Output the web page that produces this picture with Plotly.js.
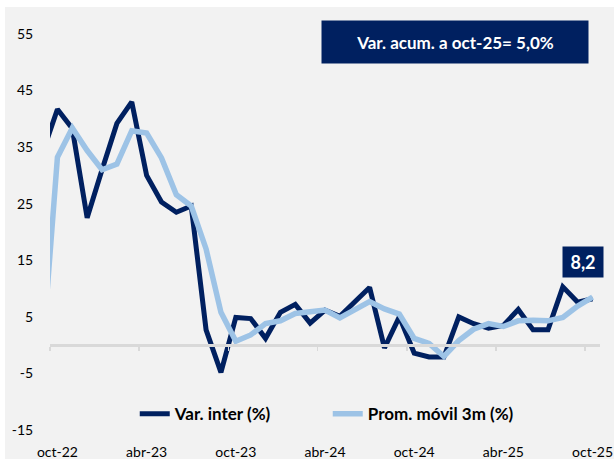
<!DOCTYPE html>
<html>
<head>
<meta charset="utf-8">
<script src="https://cdn.plot.ly/plotly-3.0.1.min.js"></script>
<style>
  html, body { margin: 0; padding: 0; background: #ffffff; }
  #chart { width: 614px; height: 459px; }
</style>
</head>
<body>
<div id="chart"></div>
<script>
// Months (sep-22 is partly clipped at the left edge, as in the reference)
const months = ["sep-22","oct-22","nov-22","dic-22","ene-23","feb-23","mar-23","abr-23","may-23","jun-23","jul-23","ago-23",
  "sep-23","oct-23","nov-23","dic-23","ene-24","feb-24","mar-24","abr-24","may-24","jun-24","jul-24","ago-24",
  "sep-24","oct-24","nov-24","dic-24","ene-25","feb-25","mar-25","abr-25","may-25","jun-25","jul-25","ago-25",
  "sep-25","oct-25"];

// Var. inter (%)
const varInter = [34, 41.7, 38.3, 22.5, 31, 39.2, 43, 30, 25.3, 23.5, 24.6, 2.7, -4.8, 4.9, 4.7, 1.2, 5.8, 7.2, 3.9,
  6.2, 5.1, 7.7, 10.2, -0.5, 5.0, -1.4, -2.1, -2.1, 5.0, 3.8, 3.0, 3.5, 6.3, 2.7, 2.7, 10.3, 7.6, 8.2];

// Prom. móvil 3m (%)
const promMovil = [-1, 33.2, 38.4, 34.4, 31.0, 32.0, 37.9, 37.5, 33.1, 26.6, 24.6, 17.0, 5.8, 0.7, 1.8, 3.8, 4.3,
  5.6, 5.9, 6.2, 4.8, 6.2, 7.7, 6.4, 5.5, 1.2, 0.3, -2.0, 0.8, 2.8, 3.8, 3.3, 4.3, 4.4, 4.3, 4.9, 6.9, 8.5];

const tickMonths = ["oct-22","abr-23","oct-23","abr-24","oct-24","abr-25","oct-25"];
const yTicks = [-15, -5, 5, 15, 25, 35, 45, 55];

const seriesNames = ["Var. inter (%)", "Prom. móvil 3m (%)"];
const boxText = "Var. acum. a oct-25= 5,0%";

const DARK = "#002060";
const LIGHT = "#9DC3E6";
const FONT = "Lato, 'Open Sans', sans-serif";

const xIdx = months.map((_, i) => i);
const tickIdx = tickMonths.map(m => months.indexOf(m));
const boundaryIdx = tickIdx.map(i => i - 0.5);
const yMin = -15, yMax = 55;
const zeroPos = (0 - yMin) / (yMax - yMin);
const lastI = months.length - 1;
const lastLabel = varInter[lastI].toFixed(1).replace(".", ",");

const traces = [
  { x: xIdx, y: varInter, type: "scatter", mode: "lines", name: seriesNames[0],
    line: { color: DARK, width: 5, shape: "linear" }, hoverinfo: "skip" },
  { x: xIdx, y: promMovil, type: "scatter", mode: "lines", name: seriesNames[1],
    line: { color: LIGHT, width: 5.5, shape: "linear" }, hoverinfo: "skip" },
  { x: boundaryIdx, y: boundaryIdx.map(() => null), xaxis: "x2", type: "scatter", mode: "lines",
    showlegend: false, hoverinfo: "skip" }
];

const layout = {
  width: 614, height: 459,
  margin: { l: 50, r: 14, t: 34, b: 29 },
  paper_bgcolor: "#ffffff",
  plot_bgcolor: "#f2f2f2",
  font: { family: FONT, size: 14, color: "#000000" },
  showlegend: true,
  legend: {
    orientation: "h", x: 0.505, y: 0.04, xanchor: "center", yanchor: "middle",
    bgcolor: "rgba(0,0,0,0)", font: { family: FONT, size: 17, color: "#000000", weight: "bold" },
    traceorder: "normal", entrywidth: 148
  },
  xaxis: {
    type: "linear", range: [0.5, lastI + 0.5], showgrid: false, zeroline: false, showline: false,
    tickmode: "array", tickvals: tickIdx, ticktext: tickMonths,
    ticks: "outside", ticklen: 9, tickcolor: "rgba(0,0,0,0)",
    tickfont: { family: FONT, size: 14, color: "#000000" }, fixedrange: true
  },
  xaxis2: {
    type: "linear", range: [0.5, lastI + 0.5], overlaying: "x", anchor: "free", position: zeroPos,
    side: "bottom", showgrid: false, zeroline: false, showline: true, linecolor: "#d9d9d9", linewidth: 2.5,
    tickmode: "array", tickvals: boundaryIdx, ticks: "outside", ticklen: 4, tickwidth: 1.5, tickcolor: "#d9d9d9",
    showticklabels: false, fixedrange: true
  },
  yaxis: {
    range: [yMin, yMax], showgrid: false, zeroline: false, showline: false,
    tickmode: "array", tickvals: yTicks, ticktext: yTicks.map(String),
    ticks: "outside", ticklen: 13, tickcolor: "rgba(0,0,0,0)",
    tickfont: { family: FONT, size: 14, color: "#000000" }, fixedrange: true
  },
  shapes: [
    { type: "rect", xref: "paper", yref: "paper", x0: -0.0818, x1: 1.03, y0: -0.08, y1: 1.068,
      fillcolor: "#f2f2f2", line: { width: 0 }, layer: "below" }
  ],
  annotations: [
    { xref: "paper", yref: "paper", x: 0.737, y: 0.98, xanchor: "center", yanchor: "middle",
      text: "<b>" + boxText + "</b>", showarrow: false, bgcolor: DARK,
      font: { family: FONT, size: 17, color: "#ffffff" }, width: 262, height: 38, borderpad: 2 },
    { xref: "x", yref: "y", x: lastI, y: varInter[lastI], xshift: -10, yshift: 37,
      xanchor: "center", yanchor: "middle", text: "<b>" + lastLabel + "</b>", showarrow: false,
      bgcolor: DARK, font: { family: FONT, size: 18, color: "#ffffff" }, width: 36, height: 26, borderpad: 2 }
  ]
};

Plotly.newPlot("chart", traces, layout, { displayModeBar: false, staticPlot: true });
</script>
</body>
</html>
